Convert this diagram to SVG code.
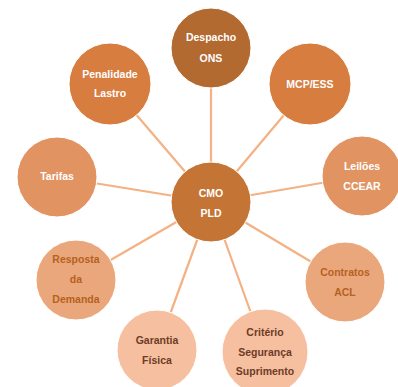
<svg xmlns="http://www.w3.org/2000/svg" width="398" height="387" viewBox="0 0 398 387">
<style>
.c{stroke:#fff;stroke-width:1}
text{font-family:"Liberation Sans",Arial,sans-serif;font-weight:bold;font-size:10.5px;text-anchor:middle}
.w{fill:#fff}
.o{fill:#B5621F}
.b{fill:#6E3B26}
#conn line{stroke:#F4B183;stroke-width:2.2}
</style>
<rect width="398" height="387" fill="#fff"/>
<g id="conn">
<line x1="211" y1="202" x2="211" y2="48"/>
<line x1="211" y1="202" x2="110" y2="84"/>
<line x1="211" y1="202" x2="310" y2="84"/>
<line x1="211" y1="202" x2="57" y2="177"/>
<line x1="211" y1="202" x2="362" y2="176"/>
<line x1="211" y1="202" x2="76" y2="280"/>
<line x1="211" y1="202" x2="345" y2="282"/>
<line x1="211" y1="202" x2="157" y2="350"/>
<line x1="211" y1="202" x2="265" y2="352"/>
</g>
<g id="despacho"><circle class="c" cx="211" cy="48" r="40" fill="#B26A31"/><text class="w" x="211" y="41">Despacho</text><text class="w" x="211" y="62">ONS</text></g>
<g id="penalidade"><circle class="c" cx="110" cy="84" r="41" fill="#D67D3F"/><text class="w" x="110" y="78">Penalidade</text><text class="w" x="110" y="97">Lastro</text></g>
<g id="mcp"><circle class="c" cx="310" cy="84" r="41" fill="#D67D3F"/><text class="w" x="310" y="88">MCP/ESS</text></g>
<g id="tarifas"><circle class="c" cx="57" cy="177" r="40" fill="#E19462"/><text class="w" x="57" y="180">Tarifas</text></g>
<g id="leiloes"><circle class="c" cx="362" cy="176" r="40" fill="#E19462"/><text class="w" x="362" y="170">Leilões</text><text class="w" x="362" y="190">CCEAR</text></g>
<g id="cmo"><circle class="c" cx="211" cy="202" r="40" fill="#C47535"/><text class="w" x="211" y="197">CMO</text><text class="w" x="211" y="217">PLD</text></g>
<g id="resposta"><circle class="c" cx="76" cy="280" r="40" fill="#EBA77C"/><text class="o" x="76" y="263">Resposta</text><text class="o" x="76" y="283">da</text><text class="o" x="76" y="303">Demanda</text></g>
<g id="contratos"><circle class="c" cx="345" cy="282" r="40" fill="#EBA77C"/><text class="o" x="345" y="276">Contratos</text><text class="o" x="345" y="296">ACL</text></g>
<g id="garantia"><circle class="c" cx="157" cy="350" r="40" fill="#F5BFA0"/><text class="b" x="157" y="344">Garantia</text><text class="b" x="157" y="364">Física</text></g>
<g id="criterio"><circle class="c" cx="265" cy="352" r="43" fill="#F5BFA0"/><text class="b" x="265" y="336">Critério</text><text class="b" x="265" y="356">Segurança</text><text class="b" x="265" y="375">Suprimento</text></g>
</svg>
